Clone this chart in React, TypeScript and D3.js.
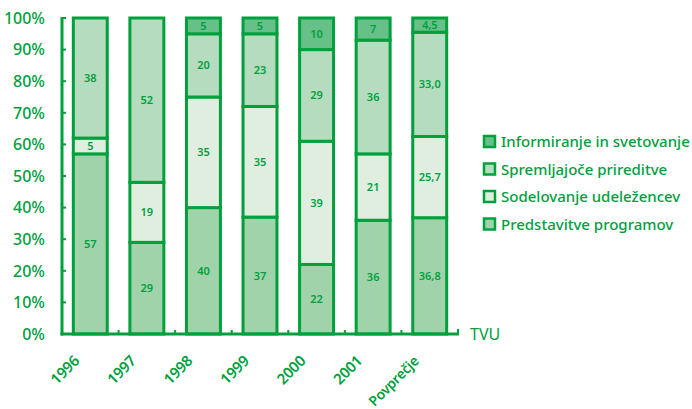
import * as d3 from "d3";

const categories = ["1996", "1997", "1998", "1999", "2000", "2001", "Povprečje"];
const seriesNames = [
  "Predstavitve programov",
  "Sodelovanje udeležencev",
  "Spremljajoče prireditve",
  "Informiranje in svetovanje",
];
const predstavitve = [57, 29, 40, 37, 22, 36, 36.8];
const sodelovanje = [5, 19, 35, 35, 39, 21, 25.7];
const spremljajoce = [38, 52, 20, 23, 29, 36, 33.0];
const informiranje = [0, 0, 5, 5, 10, 7, 4.5];
const valueLabels = [
  ["57", "29", "40", "37", "22", "36", "36,8"],
  ["5", "19", "35", "35", "39", "21", "25,7"],
  ["38", "52", "20", "23", "29", "36", "33,0"],
  ["", "", "5", "5", "10", "7", "4,5"],
];
const yTicks = [0, 10, 20, 30, 40, 50, 60, 70, 80, 90, 100];

const colors = ["#a1d3ab", "#e0eee0", "#b5dcbe", "#66c087"];
const green = "#00a040";
const stroke = "#00a03c";

export default function App() {
  const width = 692;
  const height = 409;
  const marginLeft = 62;
  const plotRight = 458;
  const top = 18;
  const bottom = 334;
  const font = "'Noto Sans', sans-serif";

  const x = d3.scaleBand().domain(categories).range([marginLeft, plotRight]).paddingInner(0.4).paddingOuter(0.2);
  const y = d3.scaleLinear([0, 100], [bottom, top]);

  const rows = categories.map((c, i) => ({
    cat: c,
    v0: predstavitve[i],
    v1: sodelovanje[i],
    v2: spremljajoce[i],
    v3: informiranje[i],
  }));
  const stack = d3.stack<any>().keys(["v0", "v1", "v2", "v3"])(rows);
  const step = x.step();

  return (
    <svg width={width} height={height} style={{ position: "absolute", left: 0, top: 0 }} fontFamily={font}>
      {stack.map((layer, si) => (
        <g key={si}>
          {layer.map((d, i) => {
            const v = d[1] - d[0];
            if (v <= 0) return null;
            const bx = x(d.data.cat)!;
            const y0 = y(d[0]);
            const y1 = y(d[1]);
            return (
              <g key={i}>
                <rect x={bx} y={y1} width={x.bandwidth()} height={y0 - y1}
                  fill={colors[si]} stroke={stroke} strokeWidth={3} />
                <text x={bx + x.bandwidth() / 2} y={(y0 + y1) / 2} dy="0.36em"
                  textAnchor="middle" fontSize={11} fontWeight={600} fill={green}>
                  {valueLabels[si][i]}
                </text>
              </g>
            );
          })}
        </g>
      ))}
      {/* y axis */}
      <line x1={marginLeft} x2={marginLeft} y1={top - 1} y2={bottom + 1.5} stroke={stroke} strokeWidth={3} />
      {yTicks.map(t => (
        <g key={t}>
          <line x1={marginLeft} x2={marginLeft + 4} y1={y(t)} y2={y(t)} stroke={stroke} strokeWidth={2} />
          <text x={45} y={y(t)} dy="0.36em" textAnchor="end" fontSize={16} fontWeight={500} fill={green}>
            {t}%
          </text>
        </g>
      ))}
      {/* x axis */}
      <line x1={marginLeft - 1.5} x2={plotRight + 1} y1={bottom} y2={bottom} stroke={stroke} strokeWidth={3} />
      {categories.slice(1).map(c => (
        <line key={c} x1={x(c)! - step * 0.2} x2={x(c)! - step * 0.2} y1={bottom} y2={bottom - 4}
          stroke={stroke} strokeWidth={2} />
      ))}
      <line x1={plotRight} x2={plotRight} y1={bottom + 1} y2={bottom - 5} stroke={stroke} strokeWidth={2} />
      <text x={470} y={bottom} dy="0.36em" fontSize={16} fill={green}>TVU</text>
      {categories.map(c => {
        const isAvg = c === "Povprečje";
        const cx = x(c)! + x.bandwidth() / 2 - 10;
        return (
          <text key={c} transform={`translate(${cx},${bottom + 28}) rotate(-45)`} textAnchor="end"
            fontSize={isAvg ? 14 : 15} fontWeight={600} fill={green} letterSpacing={-0.3}>
            {c}
          </text>
        );
      })}
      {/* legend */}
      {[3, 2, 1, 0].map((si, k) => (
        <g key={si} transform={`translate(484,${142 + k * 27.5})`}>
          <rect x={0} y={-6} width={11} height={11} fill={colors[si]} stroke={stroke} strokeWidth={2.5} />
          <text x={17} y={0} dy="0.36em" fontSize={15} fontWeight={500} fill={green}>
            {seriesNames[si]}
          </text>
        </g>
      ))}
    </svg>
  );
}
